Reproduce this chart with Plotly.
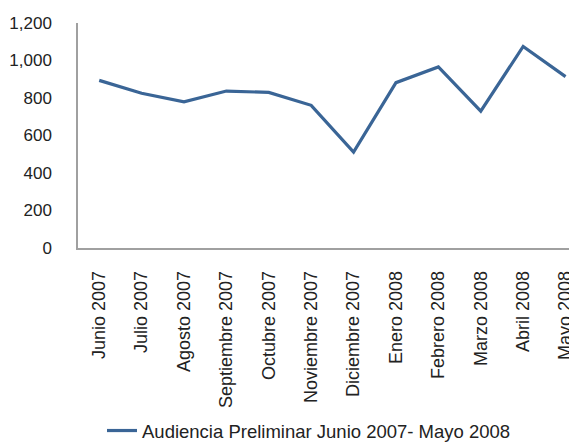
import plotly.graph_objects as go

months = ["Junio 2007", "Julio 2007", "Agosto 2007", "Septiembre 2007", "Octubre 2007",
          "Noviembre 2007", "Diciembre 2007", "Enero 2008", "Febrero 2008", "Marzo 2008",
          "Abril 2008", "Mayo 2008"]
audiencia = [894, 825, 780, 837, 830, 761, 511, 882, 966, 730, 1075, 914]
series_name = "Audiencia Preliminar Junio 2007- Mayo 2008"
y_ticks = [0, 200, 400, 600, 800, 1000, 1200]

# the page body has an 8px margin, so the figure is sized to fill the rest of the window
W, H = 569, 434
font = "Liberation Sans, Arial, sans-serif"
fig = go.Figure()
fig.add_trace(go.Scatter(
    x=list(range(len(months))), y=audiencia, mode="lines", name=series_name,
    line=dict(color="#3A6596", width=3.2), showlegend=True,
))
fig.update_layout(
    width=W, height=H,
    margin=dict(l=70, r=0, t=15, b=194, autoexpand=False),
    paper_bgcolor="white", plot_bgcolor="white",
    font=dict(family=font, size=17, color="#222222"),
    showlegend=True,
    legend=dict(orientation="h", xref="container", yref="container",
                x=94 / W, y=1 - 423 / H, xanchor="left", yanchor="middle",
                font=dict(size=18.5, color="#222222"), bgcolor="rgba(0,0,0,0)"),
    xaxis=dict(
        tickmode="array", tickvals=list(range(len(months))), ticktext=months,
        tickangle=-90, range=[-0.5, 11.27], showgrid=False, zeroline=False,
        showline=True, linecolor="#A0A0A0", linewidth=1.5, ticks="",
        ticklabelstandoff=14, tickfont=dict(size=18), automargin=False,
    ),
    yaxis=dict(
        range=[0, 1200], tickvals=y_ticks, tickformat=",d", showgrid=False,
        zeroline=False, showline=True, linecolor="#A0A0A0", linewidth=1.5,
        ticks="", ticklabelstandoff=21, tickfont=dict(size=17), automargin=False,
    ),
)
fig.write_html("out.html")
